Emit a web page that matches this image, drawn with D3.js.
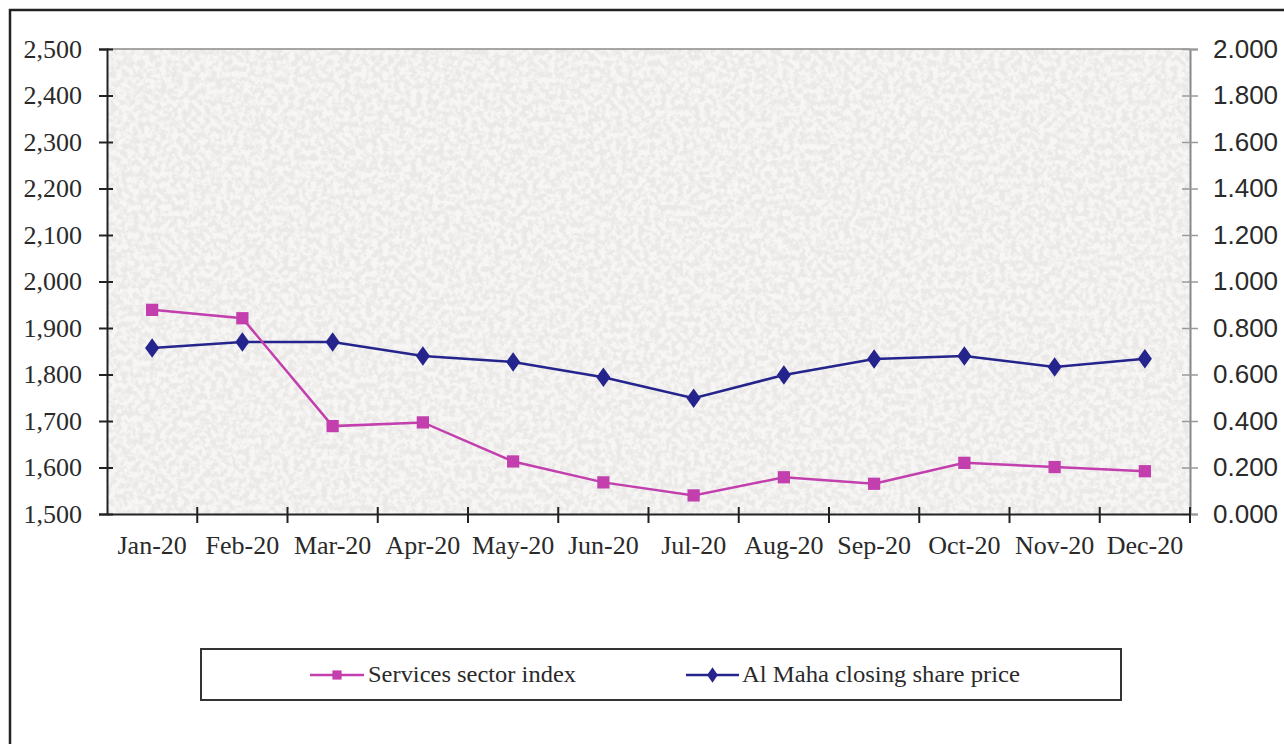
<!DOCTYPE html>
<html>
<head>
<meta charset="utf-8">
<script src="https://cdn.jsdelivr.net/npm/d3@7"></script>
<style>
html,body{margin:0;padding:0;background:#fff;}
svg{display:block;}
</style>
</head>
<body>
<svg id="chart" width="1284" height="744"></svg>
<script>
const months = ["Jan-20","Feb-20","Mar-20","Apr-20","May-20","Jun-20","Jul-20","Aug-20","Sep-20","Oct-20","Nov-20","Dec-20"];
const servicesIndex = [1939, 1921, 1689, 1697, 1613, 1568, 1540, 1579, 1565, 1610, 1601, 1592];
const alMahaPrice = [0.714, 0.740, 0.740, 0.680, 0.654, 0.588, 0.498, 0.598, 0.667, 0.680, 0.632, 0.668];
const leftTicks = [1500,1600,1700,1800,1900,2000,2100,2200,2300,2400,2500];
const rightTicks = [0,0.2,0.4,0.6,0.8,1.0,1.2,1.4,1.6,1.8,2.0];
const seriesNames = ["Services sector index","Al Maha closing share price"];

const pink = "#c23fad", navy = "#24248c";
const svg = d3.select("#chart");
const L = 107, R = 1190, T = 49, B = 514;

// outer frame
svg.append("path").attr("d","M10,744 V10 H1284").attr("fill","none").attr("stroke","#222").attr("stroke-width",2.5);

// texture
const defs = svg.append("defs");
const f = defs.append("filter").attr("id","speckle").attr("x",0).attr("y",0).attr("width","100%").attr("height","100%");
f.append("feTurbulence").attr("type","fractalNoise").attr("baseFrequency","0.18").attr("numOctaves",3).attr("seed",3).attr("result","n");
f.append("feColorMatrix").attr("in","n").attr("type","matrix")
 .attr("values","0 0 0 0 1  0 0 0 0 1  0 0 0 0 1  0 0 0 -4 2.5");
const f2 = defs.append("filter").attr("id","speckle2").attr("x",0).attr("y",0).attr("width","100%").attr("height","100%");
f2.append("feTurbulence").attr("type","fractalNoise").attr("baseFrequency","0.35").attr("numOctaves",2).attr("seed",9).attr("result","n");
f2.append("feColorMatrix").attr("in","n").attr("type","matrix")
 .attr("values","0 0 0 0 0.82  0 0 0 0 0.78  0 0 0 0 0.76  0 0 0 4 -2.6");

const x = d3.scaleBand().domain(months).range([L,R]);
const yL = d3.scaleLinear().domain([1500,2500]).range([B,T]);
const yR = d3.scaleLinear().domain([0,2]).range([B,T]);

svg.append("rect").attr("x",L).attr("y",T).attr("width",R-L).attr("height",B-T).attr("fill","#ebe9e7");
svg.append("rect").attr("x",L).attr("y",T).attr("width",R-L).attr("height",B-T).attr("filter","url(#speckle2)").attr("opacity",0.45);
svg.append("rect").attr("x",L).attr("y",T).attr("width",R-L).attr("height",B-T).attr("filter","url(#speckle)").attr("opacity",0.6);
// plot top border
svg.append("line").attr("x1",L).attr("x2",R).attr("y1",T).attr("y2",T).attr("stroke","#8a8a8a").attr("stroke-width",1.5);

// left axis
const gL = svg.append("g").attr("transform",`translate(${L},0)`)
  .call(d3.axisLeft(yL).tickValues(leftTicks).tickFormat(d3.format(",")).tickSize(8).tickPadding(17));
gL.select(".domain").attr("stroke","#222").attr("stroke-width",2);
gL.selectAll(".tick line").attr("stroke","#222").attr("stroke-width",2).attr("x2",-8).attr("x1",6);
gL.selectAll("text").attr("font-family","'Liberation Serif','Times New Roman',serif").attr("font-size",26).attr("fill","#2a2a2a");

// right axis
const gR = svg.append("g").attr("transform",`translate(${R},0)`)
  .call(d3.axisRight(yR).tickValues(rightTicks).tickFormat(d3.format(".3f")).tickSize(8).tickPadding(15));
gR.select(".domain").attr("stroke","#888").attr("stroke-width",2);
gR.selectAll(".tick line").attr("stroke","#999").attr("stroke-width",1.5).attr("x1",-8).attr("x2",8);
gR.selectAll("text").attr("font-family","'Liberation Sans',Arial,sans-serif").attr("font-size",26).attr("fill","#2a2a2a");

// bottom axis
const gB = svg.append("g").attr("transform",`translate(0,${B})`)
  .call(d3.axisBottom(x).tickSize(0).tickPadding(22));
gB.select(".domain").attr("stroke","#222").attr("stroke-width",2.2);
gB.selectAll("text").attr("font-family","'Liberation Serif','Times New Roman',serif").attr("font-size",26).attr("fill","#2a2a2a");
const edges = months.map(m => x(m)).concat([R]);
svg.append("g").selectAll("line").data(edges.slice(1)).join("line")
  .attr("x1",d=>d).attr("x2",d=>d).attr("y1",B-7).attr("y2",B+9).attr("stroke","#222").attr("stroke-width",2);

const cx = m => x(m) + x.bandwidth()/2;

// lines
const lineL = d3.line().x((d,i)=>cx(months[i])).y(d=>yL(d));
const lineR = d3.line().x((d,i)=>cx(months[i])).y(d=>yR(d));
svg.append("path").attr("d",lineR(alMahaPrice)).attr("fill","none").attr("stroke",navy).attr("stroke-width",2.5);
svg.append("path").attr("d",lineL(servicesIndex)).attr("fill","none").attr("stroke",pink).attr("stroke-width",2.5);

const sq = d3.symbol().type(d3.symbolSquare).size(150);
const dm = d3.symbol().type(d3.symbolDiamond).size(110);
svg.append("g").selectAll("path").data(alMahaPrice).join("path")
  .attr("transform",(d,i)=>`translate(${cx(months[i])},${yR(d)}) scale(1.25,1)`).attr("d",dm).attr("fill",navy);
svg.append("g").selectAll("path").data(servicesIndex).join("path")
  .attr("transform",(d,i)=>`translate(${cx(months[i])},${yL(d)})`).attr("d",sq).attr("fill",pink);

// legend
const lg = svg.append("g");
lg.append("rect").attr("x",201).attr("y",649).attr("width",920).attr("height",51).attr("fill","#fff").attr("stroke","#333").attr("stroke-width",2);
const items = [
  {name: seriesNames[0], color: pink, sym: sq, x1: 310, x2: 364, tx: 368, sc: "scale(0.75)", len: 208},
  {name: seriesNames[1], color: navy, sym: dm, x1: 686, x2: 739, tx: 742, sc: "scale(0.95,0.8)", len: 278}
];
items.forEach(it => {
  lg.append("line").attr("x1",it.x1).attr("x2",it.x2).attr("y1",675).attr("y2",675).attr("stroke",it.color).attr("stroke-width",2.5);
  lg.append("path").attr("transform",`translate(${(it.x1+it.x2)/2},675) ${it.sc}`).attr("d",it.sym).attr("fill",it.color);
  lg.append("text").attr("x",it.tx).attr("y",682).text(it.name)
    .attr("font-family","'Liberation Serif','Times New Roman',serif").attr("font-size",24).attr("fill","#2a2a2a")
    .attr("textLength", it.len).attr("lengthAdjust","spacingAndGlyphs");
});
</script>
</body>
</html>
